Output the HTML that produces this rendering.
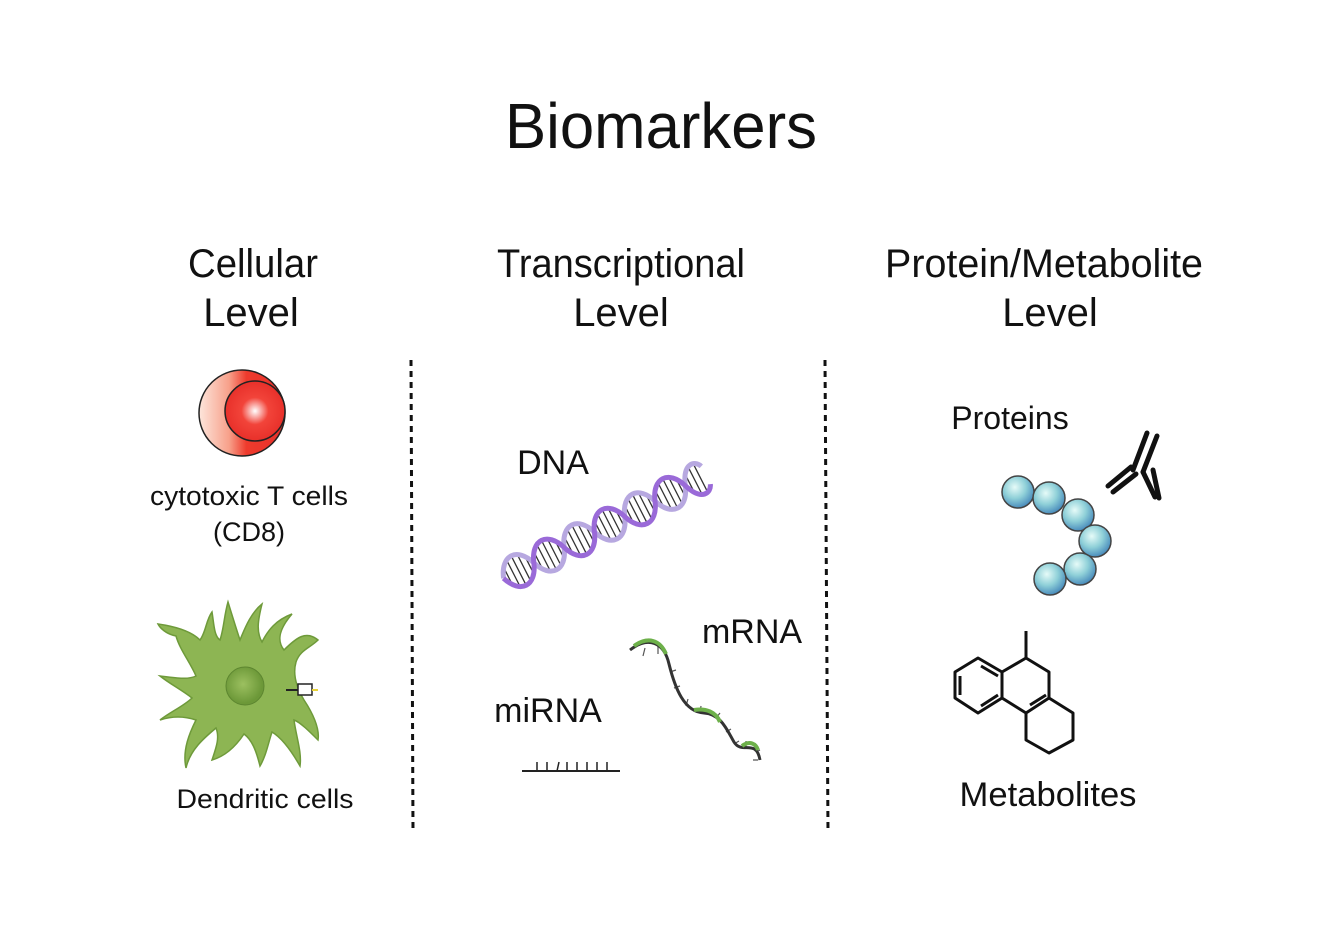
<!DOCTYPE html>
<html><head><meta charset="utf-8"><style>
html,body{margin:0;padding:0;background:#fff;}
svg{display:block;}
text{font-family:"Liberation Sans",sans-serif;fill:#111;}
</style></head><body>
<svg width="1322" height="940" viewBox="0 0 1322 940">
<defs>
<linearGradient id="rg" x1="0" x2="1" y1="0" y2="0">
<stop offset="0" stop-color="#fde6dc"/><stop offset="0.35" stop-color="#f7a08a"/><stop offset="0.55" stop-color="#ee3b2d"/><stop offset="1" stop-color="#e8302a"/></linearGradient>
<radialGradient id="rc"><stop offset="0" stop-color="#fff"/><stop offset="0.45" stop-color="#f2443a"/><stop offset="1" stop-color="#e8302a"/></radialGradient>
<radialGradient id="bead" cx="0.4" cy="0.35" r="0.7"><stop offset="0" stop-color="#e6fbf8"/><stop offset="0.5" stop-color="#8fd0d8"/><stop offset="1" stop-color="#3f82b8"/></radialGradient>
<radialGradient id="nuc" cx="0.45" cy="0.45"><stop offset="0" stop-color="#9cc060"/><stop offset="1" stop-color="#6c9838"/></radialGradient>
</defs>

<text x="661" y="148" font-size="64" text-anchor="middle" textLength="312" lengthAdjust="spacingAndGlyphs">Biomarkers</text>

<g font-size="40" text-anchor="middle">
<text x="253" y="277" textLength="130" lengthAdjust="spacingAndGlyphs">Cellular</text>
<text x="251" y="326">Level</text>
<text x="621" y="277" textLength="248" lengthAdjust="spacingAndGlyphs">Transcriptional</text>
<text x="621" y="326">Level</text>
<text x="1044" y="277" textLength="318" lengthAdjust="spacingAndGlyphs">Protein/Metabolite</text>
<text x="1050" y="326">Level</text>
</g>

<g stroke="#111" stroke-width="3" stroke-dasharray="6,5">
<line x1="411" y1="360" x2="413" y2="832"/>
<line x1="825" y1="360" x2="828" y2="832"/>
</g>

<circle cx="242" cy="413" r="43" fill="url(#rg)" stroke="#222" stroke-width="1.5"/>
<circle cx="255" cy="411" r="30" fill="url(#rc)" stroke="#222" stroke-width="1.5"/>

<g font-size="27" text-anchor="middle">
<text x="249" y="505" textLength="198" lengthAdjust="spacingAndGlyphs">cytotoxic T cells</text>
<text x="249" y="541">(CD8)</text>
<text x="265" y="808" textLength="177" lengthAdjust="spacingAndGlyphs">Dendritic cells</text>
<text x="553" y="474" font-size="34">DNA</text>
<text x="752" y="643" font-size="34">mRNA</text>
<text x="548" y="722" font-size="34">miRNA</text>
<text x="1010" y="429" font-size="32">Proteins</text>
<text x="1048" y="806" font-size="34" textLength="177" lengthAdjust="spacingAndGlyphs">Metabolites</text>
</g>

<path d="M228,602 C232,615 236,628 240,640 C246,625 252,612 262,604 C258,620 256,632 262,642 C268,630 276,620 292,614 C280,628 276,640 284,650 C296,638 306,630 318,640 C310,648 300,650 296,662 C292,676 298,690 304,700 C312,712 320,728 318,740 C310,732 300,722 294,720 C296,736 302,752 300,766 C292,752 282,738 272,732 C268,744 266,756 260,766 C256,750 252,740 244,734 C236,746 226,756 212,760 C216,748 220,738 216,728 C204,738 190,750 186,768 C182,750 190,732 196,720 C184,716 172,716 160,720 C170,712 184,706 192,698 C182,690 170,684 160,676 C176,678 188,680 196,676 C190,662 180,650 176,636 C166,634 160,628 158,624 C172,626 190,630 200,640 C206,632 206,620 212,612 C214,624 214,636 220,640 C224,628 224,616 228,602 Z" fill="#8db553" stroke="#6e9a3a" stroke-width="1.5"/>
<circle cx="245" cy="686" r="19" fill="url(#nuc)" stroke="#5d8630" stroke-width="1"/>
<line x1="286" y1="690" x2="298" y2="690" stroke="#222" stroke-width="2"/>
<rect x="298" y="684" width="14" height="11" fill="#fff" stroke="#222" stroke-width="1.5"/>
<line x1="312" y1="690" x2="318" y2="690" stroke="#e8d23a" stroke-width="2"/>

<g transform="translate(508,576) rotate(-27)">
<g stroke="#333" stroke-width="1.3">
<path d="M0,-10 L0,10 M6,-14 L6,14 M12,-16 L12,16 M18,-14 L18,14 M24,-8 L24,8
M34,-10 L34,10 M40,-14 L40,14 M46,-16 L46,16 M52,-14 L52,14 M58,-8 L58,8
M68,-10 L68,10 M74,-14 L74,14 M80,-16 L80,16 M86,-14 L86,14 M92,-8 L92,8
M102,-10 L102,10 M108,-14 L108,14 M114,-16 L114,16 M120,-14 L120,14 M126,-8 L126,8
M136,-10 L136,10 M142,-14 L142,14 M148,-16 L148,16 M154,-14 L154,14 M160,-8 L160,8
M170,-10 L170,10 M176,-14 L176,14 M182,-16 L182,16 M188,-14 L188,14 M194,-8 L194,8
M204,-10 L204,10 M210,-14 L210,14 M216,-16 L216,16"/>
</g>
<path d="M-5,0 C3,-22 21,-22 29,0 C37,22 55,22 63,0 C71,-22 89,-22 97,0 C105,22 123,22 131,0 C139,-22 157,-22 165,0 C173,22 191,22 199,0 C207,-22 219,-18 222,-10" fill="none" stroke="#b7a8e0" stroke-width="5"/>
<path d="M-5,0 C3,22 21,22 29,0 C37,-22 55,-22 63,0 C71,22 89,22 97,0 C105,-22 123,-22 131,0 C139,22 157,22 165,0 C173,-22 191,-22 199,0 C207,22 219,18 222,10" fill="none" stroke="#9a6ad8" stroke-width="5"/>
</g>

<g stroke="#555" stroke-width="1.2">
<path d="M645,648 l-2,8 M658,646 l0,8 M670,672 l6,-2 M674,688 l6,-2 M686,706 l2,-7 M700,713 l1,-7 M716,718 l4,-5 M726,732 l5,-3 M734,744 l5,-3 M746,748 l0,-7 M756,752 l4,-2 M758,760 l-5,0"/>
</g>
<path d="M630,650 C648,636 664,642 669,664 C675,688 684,712 704,713 C721,714 727,730 734,742 C742,755 756,738 760,760" fill="none" stroke="#333" stroke-width="3"/>
<path d="M634,646 C648,636 660,640 666,654 M694,710 C706,708 716,712 720,722 M742,746 C750,740 756,744 758,750" fill="none" stroke="#6db04a" stroke-width="4"/>

<line x1="522" y1="771" x2="620" y2="771" stroke="#222" stroke-width="2"/>
<path d="M537,771v-9 M547,771v-9 M557,771l2,-9 M567,771v-9 M577,771v-9 M587,771v-9 M597,771v-9 M607,771v-9" stroke="#222" stroke-width="1.5"/>

<g stroke="#444" stroke-width="1.5" fill="url(#bead)">
<circle cx="1018" cy="492" r="16"/>
<circle cx="1049" cy="498" r="16"/>
<circle cx="1078" cy="515" r="16"/>
<circle cx="1095" cy="541" r="16"/>
<circle cx="1080" cy="569" r="16"/>
<circle cx="1050" cy="579" r="16"/>
</g>
<g stroke="#111" stroke-width="5" stroke-linecap="round" fill="none">
<line x1="1147" y1="433" x2="1133" y2="470"/>
<line x1="1157" y1="436" x2="1143" y2="472"/>
<line x1="1108" y1="486" x2="1131" y2="467"/>
<line x1="1113" y1="492" x2="1136" y2="474"/>
<line x1="1143" y1="472" x2="1155" y2="497"/>
<line x1="1153" y1="470" x2="1159" y2="498"/>
</g>

<g stroke="#111" stroke-width="3" fill="none" stroke-linejoin="round">
<path d="M978,658 L1002,672 L1002,698 L978,713 L955,698 L955,672 Z"/>
<path d="M960,676 L960,695 M981,666 L998,676 M981,706 L998,695"/>
<path d="M1002,672 L1026,658 L1049,672 L1049,698 L1026,713 L1002,698"/>
<path d="M1026,658 L1026,631"/>
<path d="M1026,713 L1026,740 L1049,753 L1073,740 L1073,713 L1049,698"/>
<path d="M1030,705 L1046,695"/>
</g>
</svg>
</body></html>
